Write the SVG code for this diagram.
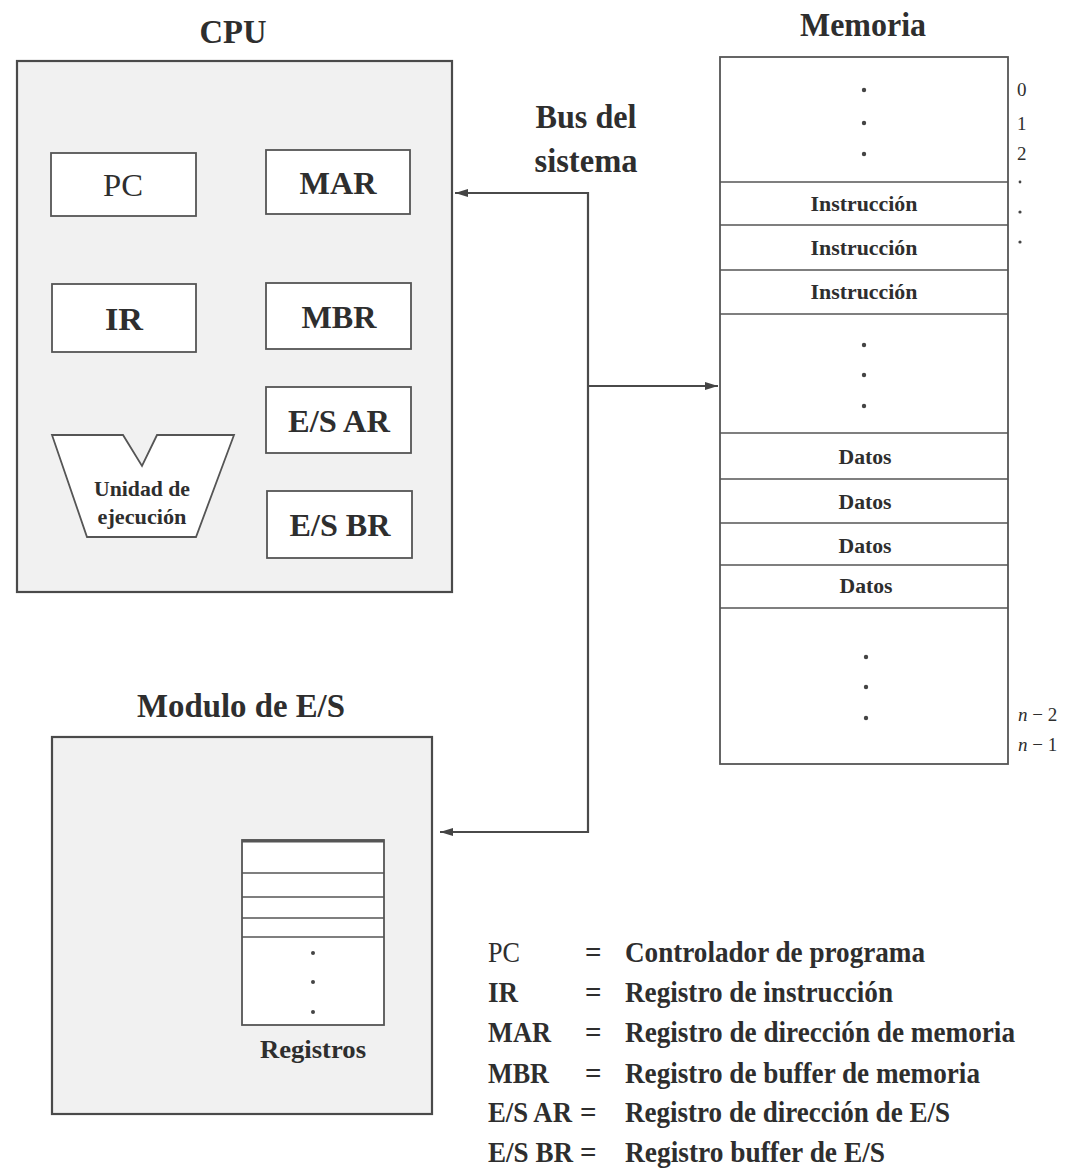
<svg xmlns="http://www.w3.org/2000/svg" width="1079" height="1172" viewBox="0 0 1079 1172">
  <defs>
    <marker id="arrow" viewBox="0 0 13 8" refX="13" refY="4" markerWidth="13" markerHeight="8" markerUnits="userSpaceOnUse" orient="auto-start-reverse">
      <path d="M0,0 L13,4 L0,8 z" fill="#444"/>
    </marker>
    <style>
      text { font-family: "Liberation Serif", "Times New Roman", serif; fill: #2e2e2e; }
      .title { font-size: 34px; font-weight: bold; text-anchor: middle; }
      .reg { font-size: 32px; font-weight: bold; text-anchor: middle; }
      .cell { font-size: 20px; font-weight: bold; text-anchor: middle; }
      .addr { font-size: 19px; }
      .leg { font-size: 29px; font-weight: bold; }
      .outer { fill: #f1f1f1; stroke: #4a4a4a; stroke-width: 2.2; }
      .box { fill: #ffffff; stroke: #555555; stroke-width: 1.8; }
      .line { stroke: #555555; stroke-width: 1.6; fill: none; }
      .bus { stroke: #4a4a4a; stroke-width: 2.2; fill: none; }
      .dot { fill: #444; }
    </style>
  </defs>

  <!-- CPU -->
  <g id="cpu">
    <text class="title" x="233" y="43" textLength="67" lengthAdjust="spacingAndGlyphs">CPU</text>
    <rect class="outer" x="17" y="61" width="435" height="531"/>
  </g>
  <g id="pc">
    <rect class="box" x="51" y="153" width="145" height="63"/>
    <text class="reg" style="font-weight:normal" x="123" y="196" textLength="40" lengthAdjust="spacingAndGlyphs">PC</text>
  </g>
  <g id="mar">
    <rect class="box" x="266" y="150" width="144" height="64"/>
    <text class="reg" x="338" y="194" textLength="77" lengthAdjust="spacingAndGlyphs">MAR</text>
  </g>
  <g id="ir">
    <rect class="box" x="52" y="284" width="144" height="68"/>
    <text class="reg" x="124" y="330" textLength="38" lengthAdjust="spacingAndGlyphs">IR</text>
  </g>
  <g id="mbr">
    <rect class="box" x="266" y="283" width="145" height="66"/>
    <text class="reg" x="339" y="328" textLength="75" lengthAdjust="spacingAndGlyphs">MBR</text>
  </g>
  <g id="es-ar">
    <rect class="box" x="266" y="387" width="145" height="66"/>
    <text class="reg" x="339" y="432" textLength="102" lengthAdjust="spacingAndGlyphs">E/S AR</text>
  </g>
  <g id="es-br">
    <rect class="box" x="267" y="491" width="145" height="67"/>
    <text class="reg" x="340" y="536" textLength="101" lengthAdjust="spacingAndGlyphs">E/S BR</text>
  </g>
  <g id="unidad-ejecucion">
    <path class="box" d="M52,435 L123,435 L142,466 L157,435 L234,435 L196,537 L87,537 Z"/>
    <text class="cell" style="font-size:22px" x="142" y="496" textLength="96" lengthAdjust="spacingAndGlyphs">Unidad de</text>
    <text class="cell" style="font-size:22px" x="142" y="524" textLength="89" lengthAdjust="spacingAndGlyphs">ejecución</text>
  </g>

  <!-- Bus label -->
  <g id="bus-label">
    <text class="title" x="586" y="128" textLength="101" lengthAdjust="spacingAndGlyphs">Bus del</text>
    <text class="title" x="586" y="172" textLength="103" lengthAdjust="spacingAndGlyphs">sistema</text>
  </g>

  <!-- Memory -->
  <g id="memoria">
    <text class="title" x="863" y="36" textLength="126" lengthAdjust="spacingAndGlyphs">Memoria</text>
    <rect class="box" x="720" y="57" width="288" height="707"/>
    <line class="line" x1="720" y1="182" x2="1008" y2="182"/>
    <line class="line" x1="720" y1="225" x2="1008" y2="225"/>
    <line class="line" x1="720" y1="270" x2="1008" y2="270"/>
    <line class="line" x1="720" y1="314" x2="1008" y2="314"/>
    <line class="line" x1="720" y1="433" x2="1008" y2="433"/>
    <line class="line" x1="720" y1="479" x2="1008" y2="479"/>
    <line class="line" x1="720" y1="523" x2="1008" y2="523"/>
    <line class="line" x1="720" y1="565" x2="1008" y2="565"/>
    <line class="line" x1="720" y1="608" x2="1008" y2="608"/>
    <circle class="dot" cx="864" cy="90" r="2.2"/>
    <circle class="dot" cx="864" cy="123" r="2.2"/>
    <circle class="dot" cx="864" cy="154" r="2.2"/>
    <text class="cell" x="864" y="211" textLength="107" lengthAdjust="spacingAndGlyphs">Instrucción</text>
    <text class="cell" x="864" y="255" textLength="107" lengthAdjust="spacingAndGlyphs">Instrucción</text>
    <text class="cell" x="864" y="299" textLength="107" lengthAdjust="spacingAndGlyphs">Instrucción</text>
    <circle class="dot" cx="864" cy="345" r="2.2"/>
    <circle class="dot" cx="864" cy="375" r="2.2"/>
    <circle class="dot" cx="864" cy="406" r="2.2"/>
    <text class="cell" x="865" y="464" textLength="53" lengthAdjust="spacingAndGlyphs">Datos</text>
    <text class="cell" x="865" y="509" textLength="53" lengthAdjust="spacingAndGlyphs">Datos</text>
    <text class="cell" x="865" y="553" textLength="53" lengthAdjust="spacingAndGlyphs">Datos</text>
    <text class="cell" x="866" y="593" textLength="53" lengthAdjust="spacingAndGlyphs">Datos</text>
    <circle class="dot" cx="866" cy="657" r="2.2"/>
    <circle class="dot" cx="866" cy="687" r="2.2"/>
    <circle class="dot" cx="866" cy="718" r="2.2"/>
    <!-- addresses -->
    <text class="addr" x="1017" y="96">0</text>
    <text class="addr" x="1017" y="130">1</text>
    <text class="addr" x="1017" y="160">2</text>
    <circle class="dot" cx="1020" cy="182" r="1.4"/>
    <circle class="dot" cx="1020" cy="212" r="1.6"/>
    <circle class="dot" cx="1020" cy="242" r="1.6"/>
    <text class="addr" x="1018" y="721"><tspan font-style="italic">n</tspan> − 2</text>
    <text class="addr" x="1018" y="751"><tspan font-style="italic">n</tspan> − 1</text>
  </g>

  <!-- I/O module -->
  <g id="modulo-es">
    <text class="title" x="241" y="717" textLength="208" lengthAdjust="spacingAndGlyphs">Modulo de E/S</text>
    <rect class="outer" x="52" y="737" width="380" height="377"/>
  </g>
  <g id="registros">
    <rect class="box" x="242" y="840" width="142" height="185"/>
    <line x1="242" y1="841" x2="384" y2="841" stroke="#555" stroke-width="3"/>
    <line class="line" x1="242" y1="873" x2="384" y2="873"/>
    <line class="line" x1="242" y1="897" x2="384" y2="897"/>
    <line class="line" x1="242" y1="918" x2="384" y2="918"/>
    <line class="line" x1="242" y1="937" x2="384" y2="937"/>
    <circle class="dot" cx="313" cy="953" r="2"/>
    <circle class="dot" cx="313" cy="982" r="2"/>
    <circle class="dot" cx="313" cy="1012" r="2"/>
    <text class="cell" style="font-size:26px" x="313" y="1058" textLength="106" lengthAdjust="spacingAndGlyphs">Registros</text>
  </g>

  <!-- System bus connectors -->
  <g id="connectors">
    <path class="bus" d="M455,193 H588 V832 H440" marker-start="url(#arrow)" marker-end="url(#arrow)"/>
    <path class="bus" d="M588,386 H718" marker-end="url(#arrow)"/>
  </g>

  <!-- Legend -->
  <g id="leyenda">
    <text class="leg" style="font-weight:normal" x="488" y="962" textLength="32" lengthAdjust="spacingAndGlyphs">PC</text>
    <text class="leg" x="488" y="1002" textLength="30" lengthAdjust="spacingAndGlyphs">IR</text>
    <text class="leg" x="488" y="1042" textLength="63" lengthAdjust="spacingAndGlyphs">MAR</text>
    <text class="leg" x="488" y="1083" textLength="61" lengthAdjust="spacingAndGlyphs">MBR</text>
    <text class="leg" x="488" y="1122" textLength="84" lengthAdjust="spacingAndGlyphs">E/S AR</text>
    <text class="leg" x="488" y="1162" textLength="85" lengthAdjust="spacingAndGlyphs">E/S BR</text>
    <text class="leg" x="585" y="962">=</text>
    <text class="leg" x="585" y="1002">=</text>
    <text class="leg" x="585" y="1042">=</text>
    <text class="leg" x="585" y="1083">=</text>
    <text class="leg" x="580" y="1122">=</text>
    <text class="leg" x="580" y="1162">=</text>
    <text class="leg" x="625" y="962" textLength="300" lengthAdjust="spacingAndGlyphs">Controlador de programa</text>
    <text class="leg" x="625" y="1002" textLength="268" lengthAdjust="spacingAndGlyphs">Registro de instrucción</text>
    <text class="leg" x="625" y="1042" textLength="390" lengthAdjust="spacingAndGlyphs">Registro de dirección de memoria</text>
    <text class="leg" x="625" y="1083" textLength="355" lengthAdjust="spacingAndGlyphs">Registro de buffer de memoria</text>
    <text class="leg" x="625" y="1122" textLength="325" lengthAdjust="spacingAndGlyphs">Registro de dirección de E/S</text>
    <text class="leg" x="625" y="1162" textLength="260" lengthAdjust="spacingAndGlyphs">Registro buffer de E/S</text>
  </g>
</svg>
